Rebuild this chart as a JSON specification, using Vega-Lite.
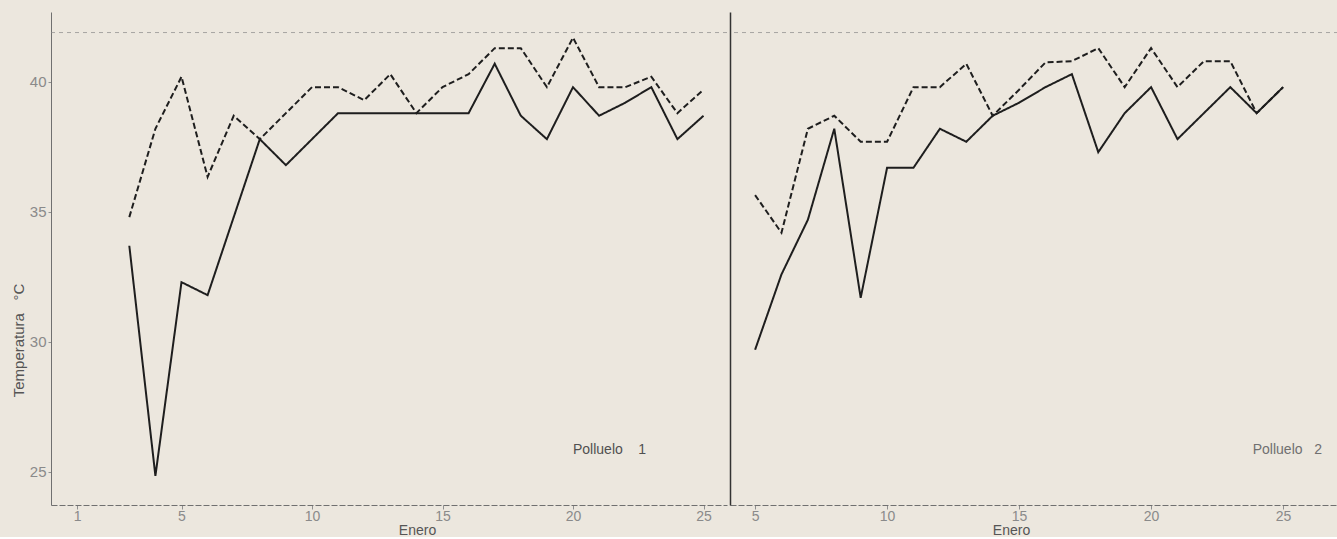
{
  "$schema": "https://vega.github.io/schema/vega-lite/v6.json",
  "background": "#ece7de",
  "padding": {"left": 11, "top": 12, "right": 0, "bottom": 0},
  "spacing": 1,
  "config": {
    "view": {"stroke": null},
    "font": "Liberation Sans",
    "axis": {"grid": false, "labelFont": "Liberation Sans", "titleFont": "Liberation Sans", "labelColor": "#8a8a8a", "titleColor": "#555555", "titleFontWeight": "normal", "domainColor": "#707070", "tickColor": "#909090", "labelOverlap": false}
  },
  "datasets": {
    "temps": [
      {"polluelo": 1, "serie": "min", "dia": 3, "temp": 33.7},
      {"polluelo": 1, "serie": "min", "dia": 4, "temp": 24.85},
      {"polluelo": 1, "serie": "min", "dia": 5, "temp": 32.3},
      {"polluelo": 1, "serie": "min", "dia": 6, "temp": 31.8},
      {"polluelo": 1, "serie": "min", "dia": 7, "temp": 34.8},
      {"polluelo": 1, "serie": "min", "dia": 8, "temp": 37.8},
      {"polluelo": 1, "serie": "min", "dia": 9, "temp": 36.8},
      {"polluelo": 1, "serie": "min", "dia": 10, "temp": 37.8},
      {"polluelo": 1, "serie": "min", "dia": 11, "temp": 38.8},
      {"polluelo": 1, "serie": "min", "dia": 12, "temp": 38.8},
      {"polluelo": 1, "serie": "min", "dia": 13, "temp": 38.8},
      {"polluelo": 1, "serie": "min", "dia": 14, "temp": 38.8},
      {"polluelo": 1, "serie": "min", "dia": 15, "temp": 38.8},
      {"polluelo": 1, "serie": "min", "dia": 16, "temp": 38.8},
      {"polluelo": 1, "serie": "min", "dia": 17, "temp": 40.7},
      {"polluelo": 1, "serie": "min", "dia": 18, "temp": 38.7},
      {"polluelo": 1, "serie": "min", "dia": 19, "temp": 37.8},
      {"polluelo": 1, "serie": "min", "dia": 20, "temp": 39.8},
      {"polluelo": 1, "serie": "min", "dia": 21, "temp": 38.7},
      {"polluelo": 1, "serie": "min", "dia": 22, "temp": 39.2},
      {"polluelo": 1, "serie": "min", "dia": 23, "temp": 39.8},
      {"polluelo": 1, "serie": "min", "dia": 24, "temp": 37.8},
      {"polluelo": 1, "serie": "min", "dia": 25, "temp": 38.7},
      {"polluelo": 1, "serie": "max", "dia": 3, "temp": 34.8},
      {"polluelo": 1, "serie": "max", "dia": 4, "temp": 38.2},
      {"polluelo": 1, "serie": "max", "dia": 5, "temp": 40.2},
      {"polluelo": 1, "serie": "max", "dia": 6, "temp": 36.35},
      {"polluelo": 1, "serie": "max", "dia": 7, "temp": 38.7},
      {"polluelo": 1, "serie": "max", "dia": 8, "temp": 37.8},
      {"polluelo": 1, "serie": "max", "dia": 9, "temp": 38.8},
      {"polluelo": 1, "serie": "max", "dia": 10, "temp": 39.8},
      {"polluelo": 1, "serie": "max", "dia": 11, "temp": 39.8},
      {"polluelo": 1, "serie": "max", "dia": 12, "temp": 39.3},
      {"polluelo": 1, "serie": "max", "dia": 13, "temp": 40.3},
      {"polluelo": 1, "serie": "max", "dia": 14, "temp": 38.8},
      {"polluelo": 1, "serie": "max", "dia": 15, "temp": 39.8},
      {"polluelo": 1, "serie": "max", "dia": 16, "temp": 40.3},
      {"polluelo": 1, "serie": "max", "dia": 17, "temp": 41.3},
      {"polluelo": 1, "serie": "max", "dia": 18, "temp": 41.3},
      {"polluelo": 1, "serie": "max", "dia": 19, "temp": 39.8},
      {"polluelo": 1, "serie": "max", "dia": 20, "temp": 41.7},
      {"polluelo": 1, "serie": "max", "dia": 21, "temp": 39.8},
      {"polluelo": 1, "serie": "max", "dia": 22, "temp": 39.8},
      {"polluelo": 1, "serie": "max", "dia": 23, "temp": 40.2},
      {"polluelo": 1, "serie": "max", "dia": 24, "temp": 38.8},
      {"polluelo": 1, "serie": "max", "dia": 25, "temp": 39.7},
      {"polluelo": 2, "serie": "min", "dia": 5, "temp": 29.7},
      {"polluelo": 2, "serie": "min", "dia": 6, "temp": 32.6},
      {"polluelo": 2, "serie": "min", "dia": 7, "temp": 34.7},
      {"polluelo": 2, "serie": "min", "dia": 8, "temp": 38.2},
      {"polluelo": 2, "serie": "min", "dia": 9, "temp": 31.7},
      {"polluelo": 2, "serie": "min", "dia": 10, "temp": 36.7},
      {"polluelo": 2, "serie": "min", "dia": 11, "temp": 36.7},
      {"polluelo": 2, "serie": "min", "dia": 12, "temp": 38.2},
      {"polluelo": 2, "serie": "min", "dia": 13, "temp": 37.7},
      {"polluelo": 2, "serie": "min", "dia": 14, "temp": 38.7},
      {"polluelo": 2, "serie": "min", "dia": 15, "temp": 39.2},
      {"polluelo": 2, "serie": "min", "dia": 16, "temp": 39.8},
      {"polluelo": 2, "serie": "min", "dia": 17, "temp": 40.3},
      {"polluelo": 2, "serie": "min", "dia": 18, "temp": 37.3},
      {"polluelo": 2, "serie": "min", "dia": 19, "temp": 38.8},
      {"polluelo": 2, "serie": "min", "dia": 20, "temp": 39.8},
      {"polluelo": 2, "serie": "min", "dia": 21, "temp": 37.8},
      {"polluelo": 2, "serie": "min", "dia": 22, "temp": 38.8},
      {"polluelo": 2, "serie": "min", "dia": 23, "temp": 39.8},
      {"polluelo": 2, "serie": "min", "dia": 24, "temp": 38.8},
      {"polluelo": 2, "serie": "min", "dia": 25, "temp": 39.8},
      {"polluelo": 2, "serie": "max", "dia": 5, "temp": 35.65},
      {"polluelo": 2, "serie": "max", "dia": 6, "temp": 34.2},
      {"polluelo": 2, "serie": "max", "dia": 7, "temp": 38.2},
      {"polluelo": 2, "serie": "max", "dia": 8, "temp": 38.7},
      {"polluelo": 2, "serie": "max", "dia": 9, "temp": 37.7},
      {"polluelo": 2, "serie": "max", "dia": 10, "temp": 37.7},
      {"polluelo": 2, "serie": "max", "dia": 11, "temp": 39.8},
      {"polluelo": 2, "serie": "max", "dia": 12, "temp": 39.8},
      {"polluelo": 2, "serie": "max", "dia": 13, "temp": 40.7},
      {"polluelo": 2, "serie": "max", "dia": 14, "temp": 38.7},
      {"polluelo": 2, "serie": "max", "dia": 15, "temp": 39.7},
      {"polluelo": 2, "serie": "max", "dia": 16, "temp": 40.75},
      {"polluelo": 2, "serie": "max", "dia": 17, "temp": 40.8},
      {"polluelo": 2, "serie": "max", "dia": 18, "temp": 41.3},
      {"polluelo": 2, "serie": "max", "dia": 19, "temp": 39.8},
      {"polluelo": 2, "serie": "max", "dia": 20, "temp": 41.3},
      {"polluelo": 2, "serie": "max", "dia": 21, "temp": 39.8},
      {"polluelo": 2, "serie": "max", "dia": 22, "temp": 40.8},
      {"polluelo": 2, "serie": "max", "dia": 23, "temp": 40.8},
      {"polluelo": 2, "serie": "max", "dia": 24, "temp": 38.8},
      {"polluelo": 2, "serie": "max", "dia": 25, "temp": 39.8}
    ],
    "ref": [{"temp": 41.9}],
    "labels1": [{"dia": 21.4, "temp": 25.85, "texto": "Polluelo\u00a0\u00a0\u00a0\u00a01"}],
    "labels2": [{"dia": 23.85, "temp": 25.85, "texto": "Polluelo\u00a0\u00a0\u00a02"}]
  },
  "hconcat": [
    {
      "width": 676,
      "height": 493,
      "layer": [
        {
          "data": {"name": "ref"},
          "mark": {"type": "rule", "color": "#8a8a8a", "strokeWidth": 1, "strokeDash": [4, 4], "opacity": 0.7},
          "encoding": {"y": {"field": "temp", "type": "quantitative", "scale": {"domain": [23.73, 42.69], "nice": false, "zero": false}}}
        },
        {
          "data": {"name": "temps"},
          "transform": [{"filter": "datum.polluelo === 1"}],
          "mark": {"type": "line", "color": "#1e1e1e", "strokeWidth": 2},
          "encoding": {
            "x": {"field": "dia", "type": "quantitative", "scale": {"domain": [0, 25.9], "nice": false, "zero": false},
              "axis": {"values": [1, 5, 10, 15, 20, 25], "title": "Enero", "titleX": 366, "titleY": 18, "titleBaseline": "top", "titleAnchor": null, "titleFontSize": 14, "labelFontSize": 14, "labelPadding": 0, "tickSize": 4, "domainDash": [6, 2], "labelOverlap": false}},
            "y": {"field": "temp", "type": "quantitative", "scale": {"domain": [23.73, 42.69], "nice": false, "zero": false},
              "axis": {"values": [25, 30, 35, 40], "labelOverlap": false, "title": "Temperatura\u00a0\u00a0\u00a0°C", "titleX": -25, "titleY": 328, "titleFontSize": 15, "labelFontSize": 15, "tickSize": 3, "labelPadding": 2}},
            "detail": {"field": "serie"},
            "strokeDash": {"field": "serie", "type": "nominal", "scale": {"domain": ["min", "max"], "range": [[1, 0], [6, 3]]}, "legend": null}
          }
        },
        {
          "data": {"name": "labels1"},
          "mark": {"type": "text", "fontSize": 14, "color": "#505050", "font": "Liberation Sans"},
          "encoding": {
            "x": {"field": "dia", "type": "quantitative"},
            "y": {"field": "temp", "type": "quantitative"},
            "text": {"field": "texto"}
          }
        }
      ]
    },
    {
      "width": 608,
      "height": 493,
      "layer": [
        {
          "data": {"name": "ref"},
          "mark": {"type": "rule", "color": "#8a8a8a", "strokeWidth": 1, "strokeDash": [4, 4], "opacity": 0.7},
          "encoding": {"y": {"field": "temp", "type": "quantitative", "scale": {"domain": [23.73, 42.69], "nice": false, "zero": false}}}
        },
        {
          "data": {"name": "temps"},
          "transform": [{"filter": "datum.polluelo === 2"}],
          "mark": {"type": "line", "color": "#1e1e1e", "strokeWidth": 2},
          "encoding": {
            "x": {"field": "dia", "type": "quantitative", "scale": {"domain": [4.05, 27.08], "nice": false, "zero": false},
              "axis": {"values": [5, 10, 15, 20, 25], "title": "Enero", "titleX": 281, "titleY": 18, "titleBaseline": "top", "titleAnchor": null, "titleFontSize": 14, "labelFontSize": 14, "labelPadding": 0, "tickSize": 4, "domainDash": [6, 2], "labelOverlap": false}},
            "y": {"field": "temp", "type": "quantitative", "scale": {"domain": [23.73, 42.69], "nice": false, "zero": false},
              "axis": {"labels": false, "ticks": false, "title": null, "domainColor": "#333333", "domainWidth": 1.5}},
            "detail": {"field": "serie"},
            "strokeDash": {"field": "serie", "type": "nominal", "scale": {"domain": ["min", "max"], "range": [[1, 0], [6, 3]]}, "legend": null}
          }
        },
        {
          "data": {"name": "labels2"},
          "mark": {"type": "text", "fontSize": 14, "color": "#707070", "align": "left", "font": "Liberation Sans"},
          "encoding": {
            "x": {"field": "dia", "type": "quantitative"},
            "y": {"field": "temp", "type": "quantitative"},
            "text": {"field": "texto"}
          }
        }
      ]
    }
  ]
}
